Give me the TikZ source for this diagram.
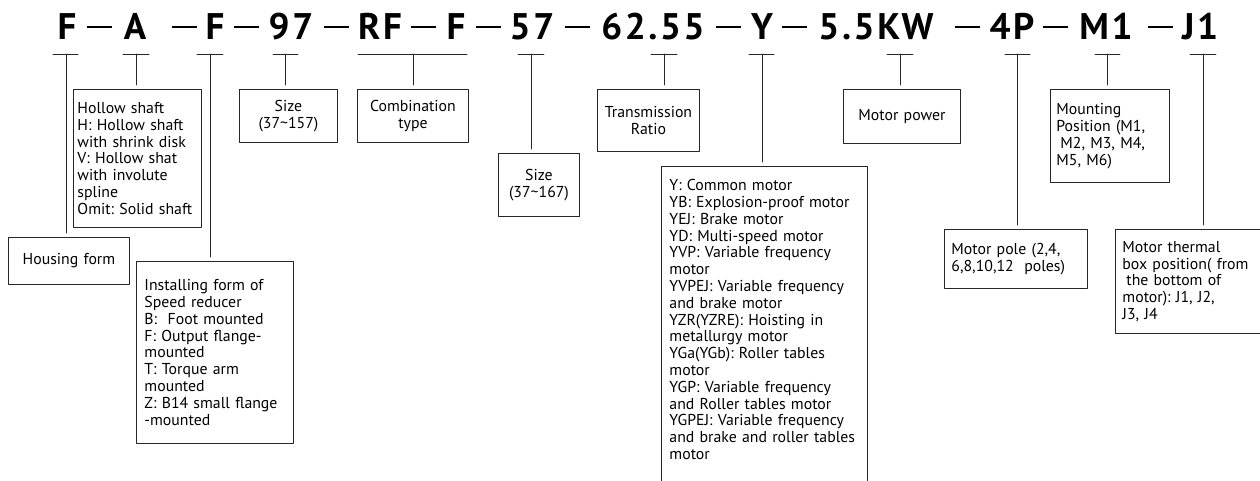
\documentclass[tikz,border=0pt]{standalone}
\usepackage{fontspec}
\setmainfont{PT Sans}
\newfontfamily\codefont[LetterSpace=7]{PT Sans}
\frenchspacing

\begin{document}
\begin{tikzpicture}[line cap=round,line join=round,x=1pt,y=-1pt,
	code/.style={font=\codefont\fontsize{37}{40}\selectfont\bfseries,anchor=base,inner sep=0pt},
	sep/.style={inner sep=0pt},
	box/.style={draw=black!85,line width=0.9pt,anchor=north west,inner xsep=8pt,inner ysep=0pt,font=\fontsize{15.8}{16.8}\selectfont},
	lbox/.style={box,align=left},
	cbox/.style={box,align=center},
	tick/.style={draw=black!85,line width=0.9pt},
	link/.style={tick,shorten >=4pt}]
	\useasboundingbox (0,0) rectangle (1260,481);
	\clip (0,0) rectangle (1260,481);
	% type code
	\node[code] (cF) at (67,40) {F};
	\node[sep] (s1) at (99,26.7) {\rule{25pt}{1.7pt}};
	\node[code] (cA) at (135,40) {A};
	\node[sep] (s2) at (184.5,26.7) {\rule{25pt}{1.7pt}};
	\node[code] (cF2) at (215,40) {F};
	\node[sep] (s3) at (246,26.7) {\rule{25pt}{1.7pt}};
	\node[code] (c97) at (291,40) {97};
	\node[sep] (s4) at (336,26.7) {\rule{25pt}{1.7pt}};
	\node[code] (cRF) at (380,40) {RF};
	\node[sep] (s5) at (423,26.7) {\rule{25pt}{1.7pt}};
	\node[code] (cF3) at (456,40) {F};
	\node[sep] (s6) at (488,26.7) {\rule{25pt}{1.7pt}};
	\node[code] (c57) at (532,40) {57};
	\node[sep] (s7) at (577,26.7) {\rule{25pt}{1.7pt}};
	\node[code] (cratio) at (653,40) {62.55};
	\node[sep] (s8) at (728,26.7) {\rule{25pt}{1.7pt}};
	\node[code] (cY) at (762,40) {Y};
	\node[sep] (s9) at (794,26.7) {\rule{25pt}{1.7pt}};
	\node[code] (cKW) at (876,40) {5.5KW};
	\node[sep] (s10) at (967,26.7) {\rule{25pt}{1.7pt}};
	\node[code] (c4P) at (1012,40) {4P};
	\node[sep] (s11) at (1055,26.7) {\rule{25pt}{1.7pt}};
	\node[code] (cM1) at (1106,40) {M1};
	\node[sep] (s12) at (1160,26.7) {\rule{25pt}{1.7pt}};
	\node[code] (cJ1) at (1200,40) {J1};
	% boxes
	\node[cbox,minimum width=121,minimum height=47,text width=109,inner xsep=6pt] (hous) at (8,237) {Housing form};
	\node[lbox,minimum width=126,minimum height=138,text width=120,inner xsep=4pt] (hollow) at (73,89) {Hollow shaft\\H: Hollow shaft\\with shrink disk\\V: Hollow shat\\with involute\\spline\\Omit: Solid shaft};
	\node[lbox,minimum width=153,minimum height=182,text width=141,inner xsep=8pt] (inst) at (136,261) {Installing form of\\Speed reducer\\B:~~Foot mounted\\F: Output flange-\\mounted\\T: Torque arm\\mounted\\Z: B14 small flange\\-mounted};
	\node[cbox,minimum width=98,minimum height=53,text width=86,inner xsep=6pt] (size) at (239,89) {Size\\(37\textasciitilde157)};
	\node[cbox,minimum width=111,minimum height=53,text width=99,inner xsep=6pt] (comb) at (357,89) {Combination\\type};
	\node[cbox,minimum width=81,minimum height=63,text width=75,inner xsep=3pt] (sizeb) at (498,153) {Size\\(37\textasciitilde167)};
	\node[cbox,minimum width=102,minimum height=62,text width=96,inner xsep=3pt] (trans) at (597,89) {Transmission\\Ratio};
	\node[lbox,minimum width=200,text width=190,inner xsep=8pt,inner ysep=13pt] (motor) at (661,166) {Y: Common motor\\YB: Explosion-proof motor\\YEJ: Brake motor\\YD: Multi-speed motor\\YVP: Variable frequency\\motor\\YVPEJ: Variable frequency\\and brake motor\\YZR(YZRE): Hoisting in\\metallurgy motor\\YGa(YGb): Roller tables\\motor\\YGP: Variable frequency\\and Roller tables motor\\YGPEJ: Variable frequency\\and brake and roller tables\\motor\\\rule{0pt}{60pt}};
	\node[cbox,minimum width=117,minimum height=54,text width=105,inner xsep=6pt] (power) at (843,89) {Motor power};
	\node[lbox,minimum width=139,minimum height=59,text width=129,inner xsep=7pt] (pole) at (944,229) {Motor pole (2,4,\\6,8,10,12~~poles)};
	\node[lbox,minimum width=117,minimum height=93,text width=107,inner xsep=6pt] (mount) at (1050,89) {Mounting\\Position (M1,\\\hspace*{0.25em}M2, M3, M4,\\M5, M6)};
	\node[lbox,minimum width=142,minimum height=104,text width=134,inner xsep=7pt] (therm) at (1115,229) {Motor thermal\\box position( from\\\hspace*{0.25em}the bottom of\\motor): J1, J2,\\J3, J4};
	% ticks under the code
	\coordinate (tF) at (66,54);
	\coordinate (tA) at (136,54);
	\coordinate (tF2) at (210,54);
	\coordinate (t97) at (285,54);
	\coordinate (tRF) at (413,54);
	\coordinate (t57) at (531,54);
	\coordinate (tratio) at (664,54);
	\coordinate (tY) at (762,54);
	\coordinate (tKW) at (900,54);
	\coordinate (t4P) at (1017,54);
	\coordinate (tM1) at (1107,54);
	\coordinate (tJ1) at (1203,54);
	\draw[tick] (53,54) -- (78,54);
	\draw[tick] (123,54) -- (149,54);
	\draw[tick] (197,54) -- (223,54);
	\draw[tick] (273,54) -- (298,54);
	\draw[tick] (358,54) -- (467,54);
	\draw[tick] (518,54) -- (544,54);
	\draw[tick] (651,54) -- (677,54);
	\draw[tick] (749,54) -- (774,54);
	\draw[tick] (887,54) -- (913,54);
	\draw[tick] (1005,54) -- (1030,54);
	\draw[tick] (1095,54) -- (1120,54);
	\draw[tick] (1190,54) -- (1216,54);
	% links to the boxes
	\draw[link] (tF) -- (tF |- hous.north);
	\draw[link] (tA) -- (tA |- hollow.north);
	\draw[link] (tF2) -- (tF2 |- inst.north);
	\draw[link] (t97) -- (t97 |- size.north);
	\draw[link] (tRF) -- (tRF |- comb.north);
	\draw[link] (t57) -- (t57 |- sizeb.north);
	\draw[link] (tratio) -- (tratio |- trans.north);
	\draw[link] (tY) -- (tY |- motor.north);
	\draw[link] (tKW) -- (tKW |- power.north);
	\draw[link] (t4P) -- (t4P |- pole.north);
	\draw[link] (tM1) -- (tM1 |- mount.north);
	\draw[link] (tJ1) -- (tJ1 |- therm.north);
\end{tikzpicture}
\end{document}
